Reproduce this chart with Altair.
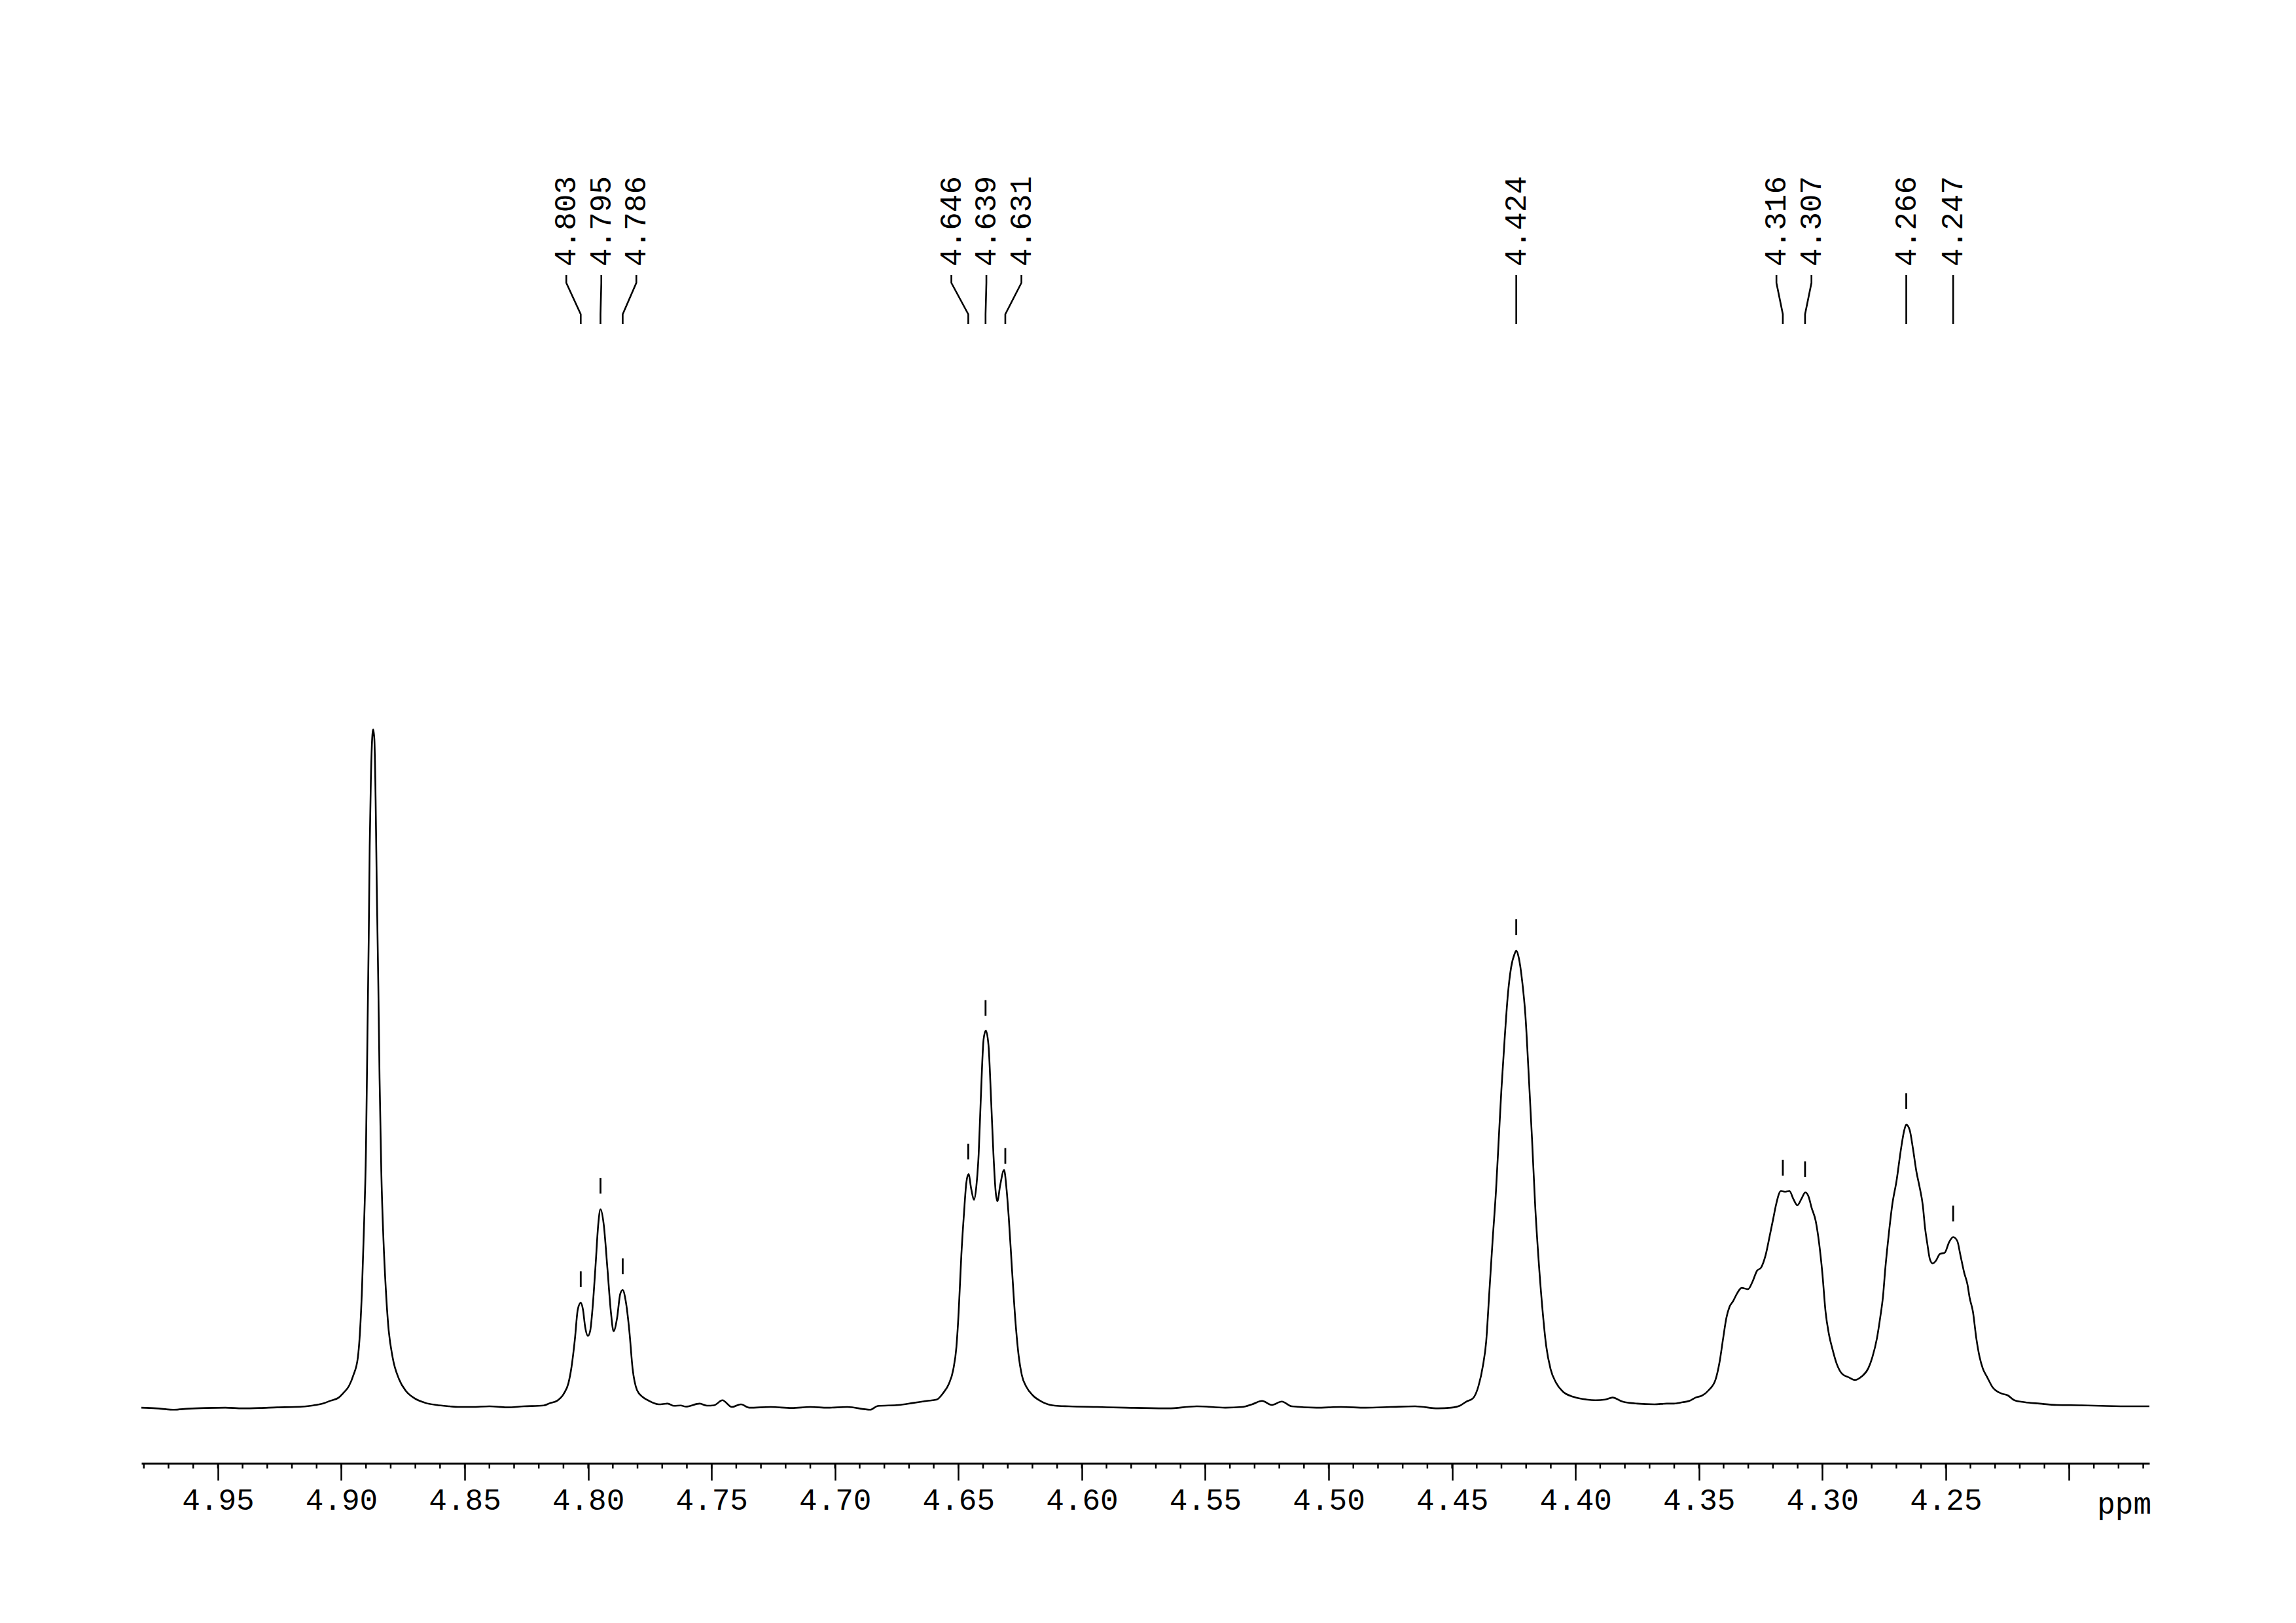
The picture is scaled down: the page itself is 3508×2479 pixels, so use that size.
import altair as alt
import pandas as pd
import numpy as np

# ---------------- data ----------------
ppm_vals = [
    4.981, 4.975, 4.968, 4.962, 4.955, 4.947, 4.940, 4.933, 4.926, 4.919,
    4.9115, 4.9072, 4.9043, 4.9010, 4.8991, 4.8969, 4.8951, 4.8933, 4.8925, 4.8916,
    4.8907, 4.8900, 4.8894, 4.8889, 4.8885, 4.8880, 4.8874, 4.8871, 4.8866, 4.8861,
    4.8856, 4.8850, 4.8845, 4.8838, 4.8829, 4.8820, 4.8810, 4.8792, 4.8766, 4.8739,
    4.8704, 4.8659, 4.8615, 4.8562, 4.8527, 4.847, 4.840, 4.833, 4.826, 4.818,
    4.8156, 4.8125, 4.8098, 4.808, 4.8067, 4.8054, 4.8042, 4.8030, 4.8021, 4.8012,
    4.8001, 4.7992, 4.7981, 4.797, 4.7959, 4.7950, 4.7937, 4.7922, 4.7908, 4.7897,
    4.7883, 4.787, 4.7860, 4.7848, 4.7833, 4.782, 4.7802, 4.778, 4.7758, 4.7714,
    4.7678, 4.7652, 4.7625, 4.7604, 4.7548, 4.7519, 4.749, 4.7456, 4.7418, 4.7381,
    4.7347, 4.7260, 4.7175, 4.710, 4.703, 4.695, 4.6857, 4.6827, 4.6742, 4.6684,
    4.6628, 4.6588, 4.6561, 4.6539, 4.6521, 4.6508, 4.6499, 4.6488, 4.6477, 4.6468,
    4.6459, 4.6448, 4.6437, 4.6427, 4.6418, 4.6409, 4.6398, 4.6389, 4.6378, 4.6368,
    4.6358, 4.6349, 4.6342, 4.6331, 4.6315, 4.6305, 4.6296, 4.6283, 4.6269, 4.6256,
    4.6243, 4.6225, 4.6198, 4.6163, 4.6110, 4.6053, 4.5937, 4.5822, 4.565, 4.5534,
    4.5419, 4.535, 4.531, 4.527, 4.523, 4.519, 4.515, 4.505, 4.495, 4.485,
    4.475, 4.465, 4.4557, 4.4504, 4.4468, 4.4442, 4.4415, 4.4393, 4.4375, 4.4362,
    4.4349, 4.4336, 4.4322, 4.4311, 4.4300, 4.4287, 4.4274, 4.4261, 4.4247, 4.4240,
    4.4230, 4.4216, 4.4203, 4.4190, 4.4176, 4.4163, 4.4150, 4.4134, 4.4119, 4.4101,
    4.4079, 4.4052, 4.4008, 4.3955, 4.3919, 4.388, 4.385, 4.381, 4.375, 4.368,
    4.363, 4.3601, 4.3566, 4.3539, 4.3513, 4.3486, 4.3460, 4.3433, 4.3416, 4.3402,
    4.3389, 4.3376, 4.3362, 4.3345, 4.3327, 4.3301, 4.3283, 4.3265, 4.3248, 4.3230,
    4.3212, 4.3199, 4.3188, 4.3168, 4.3151, 4.3133, 4.3117, 4.3101, 4.3084, 4.3069,
    4.3055, 4.3044, 4.3027, 4.3013, 4.3000, 4.2987, 4.2973, 4.2960, 4.2942, 4.2920,
    4.2894, 4.2867, 4.2841, 4.2814, 4.2797, 4.2779, 4.2766, 4.2754, 4.2745, 4.2730,
    4.2717, 4.2699, 4.2681, 4.2668, 4.2660, 4.2646, 4.2633, 4.2619, 4.2606, 4.2593,
    4.2584, 4.2575, 4.2564, 4.2553, 4.2540, 4.2524, 4.2504, 4.2487, 4.2470, 4.2453,
    4.2441, 4.2425, 4.2412, 4.2403, 4.2390, 4.2376, 4.2363, 4.2350, 4.2332, 4.2310,
    4.2275, 4.2248, 4.2222, 4.218, 4.212, 4.205, 4.195, 4.185, 4.175, 4.1675,
]
int_vals = [
    -0.2, -0.3, -0.5, -0.35, -0.25, -0.2, -0.3, -0.25, -0.15, -0.1,
    0.13, 0.45, 0.84, 1.3, 2.0, 3.0, 4.6, 7.2, 10.6, 17.5,
    27.8, 38.1, 55.2, 69.0, 82.7, 93.0, 99.2, 100.0, 98.5, 89.6,
    75.8, 62.1, 48.4, 34.7, 24.4, 17.5, 12.0, 7.2, 4.0, 2.3,
    1.2, 0.5, 0.2, 0.0, -0.1, -0.1, 0.0, -0.15, 0.0, 0.13,
    0.45, 0.84, 1.9, 3.4, 5.9, 9.8, 14.3, 15.3, 14.3, 11.7,
    10.4, 11.1, 15.0, 20.8, 26.9, 29.1, 26.9, 20.4, 14.0, 11.1,
    13.0, 16.6, 17.2, 15.6, 11.1, 5.6, 2.4, 1.4, 0.9, 0.3,
    0.4, 0.07, 0.13, -0.05, 0.4, 0.1, 0.15, 0.9, -0.1, 0.3,
    -0.2, -0.1, -0.25, -0.1, -0.2, -0.1, -0.5, 0.05, 0.2, 0.5,
    0.8, 1.0, 2.0, 3.3, 5.4, 8.8, 13.9, 22.4, 28.7, 33.0,
    34.3, 32.1, 30.5, 32.6, 37.2, 45.7, 54.2, 55.5, 53.3, 45.7,
    37.2, 31.7, 30.3, 32.6, 34.9, 32.1, 27.9, 20.3, 12.6, 7.5,
    4.6, 2.9, 1.6, 0.7, 0.1, 0.0, -0.1, -0.2, -0.3, 0.0,
    -0.2, -0.1, 0.3, 0.8, 0.2, 0.7, 0.0, -0.2, -0.1, -0.2,
    -0.1, 0.0, -0.3, -0.2, 0.1, 0.7, 1.2, 3.0, 6.0, 9.5,
    16.9, 24.4, 31.9, 39.4, 46.9, 54.3, 60.8, 64.8, 66.8, 67.3,
    66.3, 62.8, 57.8, 49.3, 39.4, 29.4, 21.9, 14.4, 9.0, 5.5,
    3.5, 2.2, 1.4, 1.0, 0.9, 1.0, 1.3, 0.7, 0.4, 0.3,
    0.4, 0.4, 0.6, 0.8, 1.3, 1.6, 2.4, 3.9, 6.6, 10.0,
    13.0, 14.7, 15.5, 16.7, 17.5, 17.3, 18.4, 20.0, 20.5, 22.3,
    25.4, 27.7, 29.7, 31.8, 31.7, 31.8, 30.6, 29.7, 30.7, 31.6,
    30.9, 29.4, 27.4, 24.1, 19.7, 14.0, 10.6, 8.6, 6.3, 4.8,
    4.3, 3.9, 4.4, 5.6, 7.3, 10.0, 13.0, 16.3, 20.3, 25.7,
    29.7, 33.4, 38.1, 40.8, 41.6, 40.8, 38.1, 34.7, 32.4, 29.7,
    26.4, 24.1, 21.7, 21.1, 21.5, 22.5, 22.7, 24.2, 25.0, 24.4,
    22.4, 19.7, 18.0, 16.0, 14.0, 10.0, 7.3, 5.6, 4.3, 2.8,
    1.9, 1.6, 0.9, 0.6, 0.4, 0.2, 0.15, 0.05, 0.0, 0.0,
]
peak_labels = [4.803, 4.795, 4.786, 4.646, 4.639, 4.631, 4.424, 4.316, 4.307, 4.266, 4.247]
major_ticks = [4.95, 4.90, 4.85, 4.80, 4.75, 4.70, 4.65, 4.60, 4.55, 4.50,
               4.45, 4.40, 4.35, 4.30, 4.25, 4.20]
minor_ticks = [round(4.98 - 0.01 * i, 2) for i in range(82)]

# ---------------- layout ----------------
W, H = 3068, 1985
XMIN, XMAX = 4.1675, 4.981
YMIN, YMAX = -8.41, 183.56
FONT = "Liberation Mono"
FS = 46
LW = 2.6

xscale = alt.Scale(domain=[XMIN, XMAX], reverse=True, nice=False, zero=False)
yscale = alt.Scale(domain=[YMIN, YMAX], nice=False, zero=False)


def px_to_units(py):
    return YMAX - py / H * (YMAX - YMIN)


def spread(peaks, sep):
    pts = sorted(peaks, reverse=True)
    groups = [[p] for p in pts]

    def pos(g):
        c = sum(g) / len(g)
        n = len(g)
        return [c + ((n - 1) / 2 - i) * sep for i in range(n)]

    changed = True
    while changed:
        changed = False
        for i in range(len(groups) - 1):
            a, b = pos(groups[i]), pos(groups[i + 1])
            if a[-1] - b[0] < sep - 1e-9:
                groups[i] = groups[i] + groups[i + 1]
                del groups[i + 1]
                changed = True
                break
    out = []
    for g in groups:
        out += pos(g)
    return out


spec_df = pd.DataFrame({"ppm": ppm_vals, "I": int_vals})
asc = spec_df.sort_values("ppm")
peaks_sorted = sorted(peak_labels, reverse=True)
label_x = spread(peaks_sorted, 0.01419)
peak_h = np.interp(peaks_sorted, asc["ppm"].values, asc["I"].values)

peak_df = pd.DataFrame({"ppm": peaks_sorted, "h": peak_h,
                        "lx": label_x,
                        "txt": [f"{p:.3f}" for p in peaks_sorted]})

conn_rows = []
for k, (p, lx) in enumerate(zip(peaks_sorted, label_x)):
    for o, (xx, py) in enumerate([(lx, 170), (lx, 182), (p, 230), (p, 245)]):
        conn_rows.append({"id": k, "o": o, "x": xx, "y": px_to_units(py)})
conn_df = pd.DataFrame(conn_rows)

spectrum = alt.Chart(spec_df).mark_line(
    color="black", strokeWidth=LW, interpolate="monotone"
).encode(
    x=alt.X("ppm:Q", scale=xscale, title=None,
            axis=alt.Axis(values=major_ticks, format=".2f",
                          labelExpr="datum.value < 4.21 ? '' : datum.label",
                          tickSize=26, tickWidth=2.5, tickColor="black",
                          domainWidth=3, domainColor="black",
                          labelFont=FONT, labelFontSize=FS, labelColor="black",
                          labelPadding=8, grid=False, labelFlush=False,
                          labelOverlap=False)),
    y=alt.Y("I:Q", scale=yscale, axis=None),
    order=alt.Order("ppm:Q", sort="descending"),
)

minor = alt.Chart(pd.DataFrame({"t": minor_ticks})).mark_rule(
    color="black", strokeWidth=2.5
).encode(
    x=alt.X("t:Q", scale=xscale),
    y=alt.value(H), y2=alt.value(H + 8),
)

markers = alt.Chart(peak_df).mark_rule(
    color="black", strokeWidth=2.8, yOffset=-24, y2Offset=-48
).encode(
    x=alt.X("ppm:Q", scale=xscale),
    y=alt.Y("h:Q", scale=yscale),
    y2="h:Q",
)

connectors = alt.Chart(conn_df).mark_line(
    color="black", strokeWidth=LW
).encode(
    x=alt.X("x:Q", scale=xscale),
    y=alt.Y("y:Q", scale=yscale),
    detail="id:N",
    order="o:Q",
)

labels = alt.Chart(peak_df).mark_text(
    angle=270, align="left", baseline="middle", font=FONT, fontSize=FS,
    color="black"
).encode(
    x=alt.X("lx:Q", scale=xscale),
    y=alt.value(157),
    text="txt:N",
)

unit = alt.Chart(pd.DataFrame({"u": ["ppm"]})).mark_text(
    align="right", baseline="alphabetic", font=FONT, fontSize=FS, color="black"
).encode(
    x=alt.value(W + 3), y=alt.value(H + 77), text="u:N"
)

chart = alt.layer(spectrum, minor, markers, connectors, labels, unit).properties(
    width=W, height=H,
    autosize=alt.AutoSizeParams(type="none"),
    padding={"left": 208, "top": 242, "right": 30, "bottom": 200},
    background="white",
).configure_view(stroke=None)

chart.save("out.html", embed_options={"renderer": "svg", "actions": False})
